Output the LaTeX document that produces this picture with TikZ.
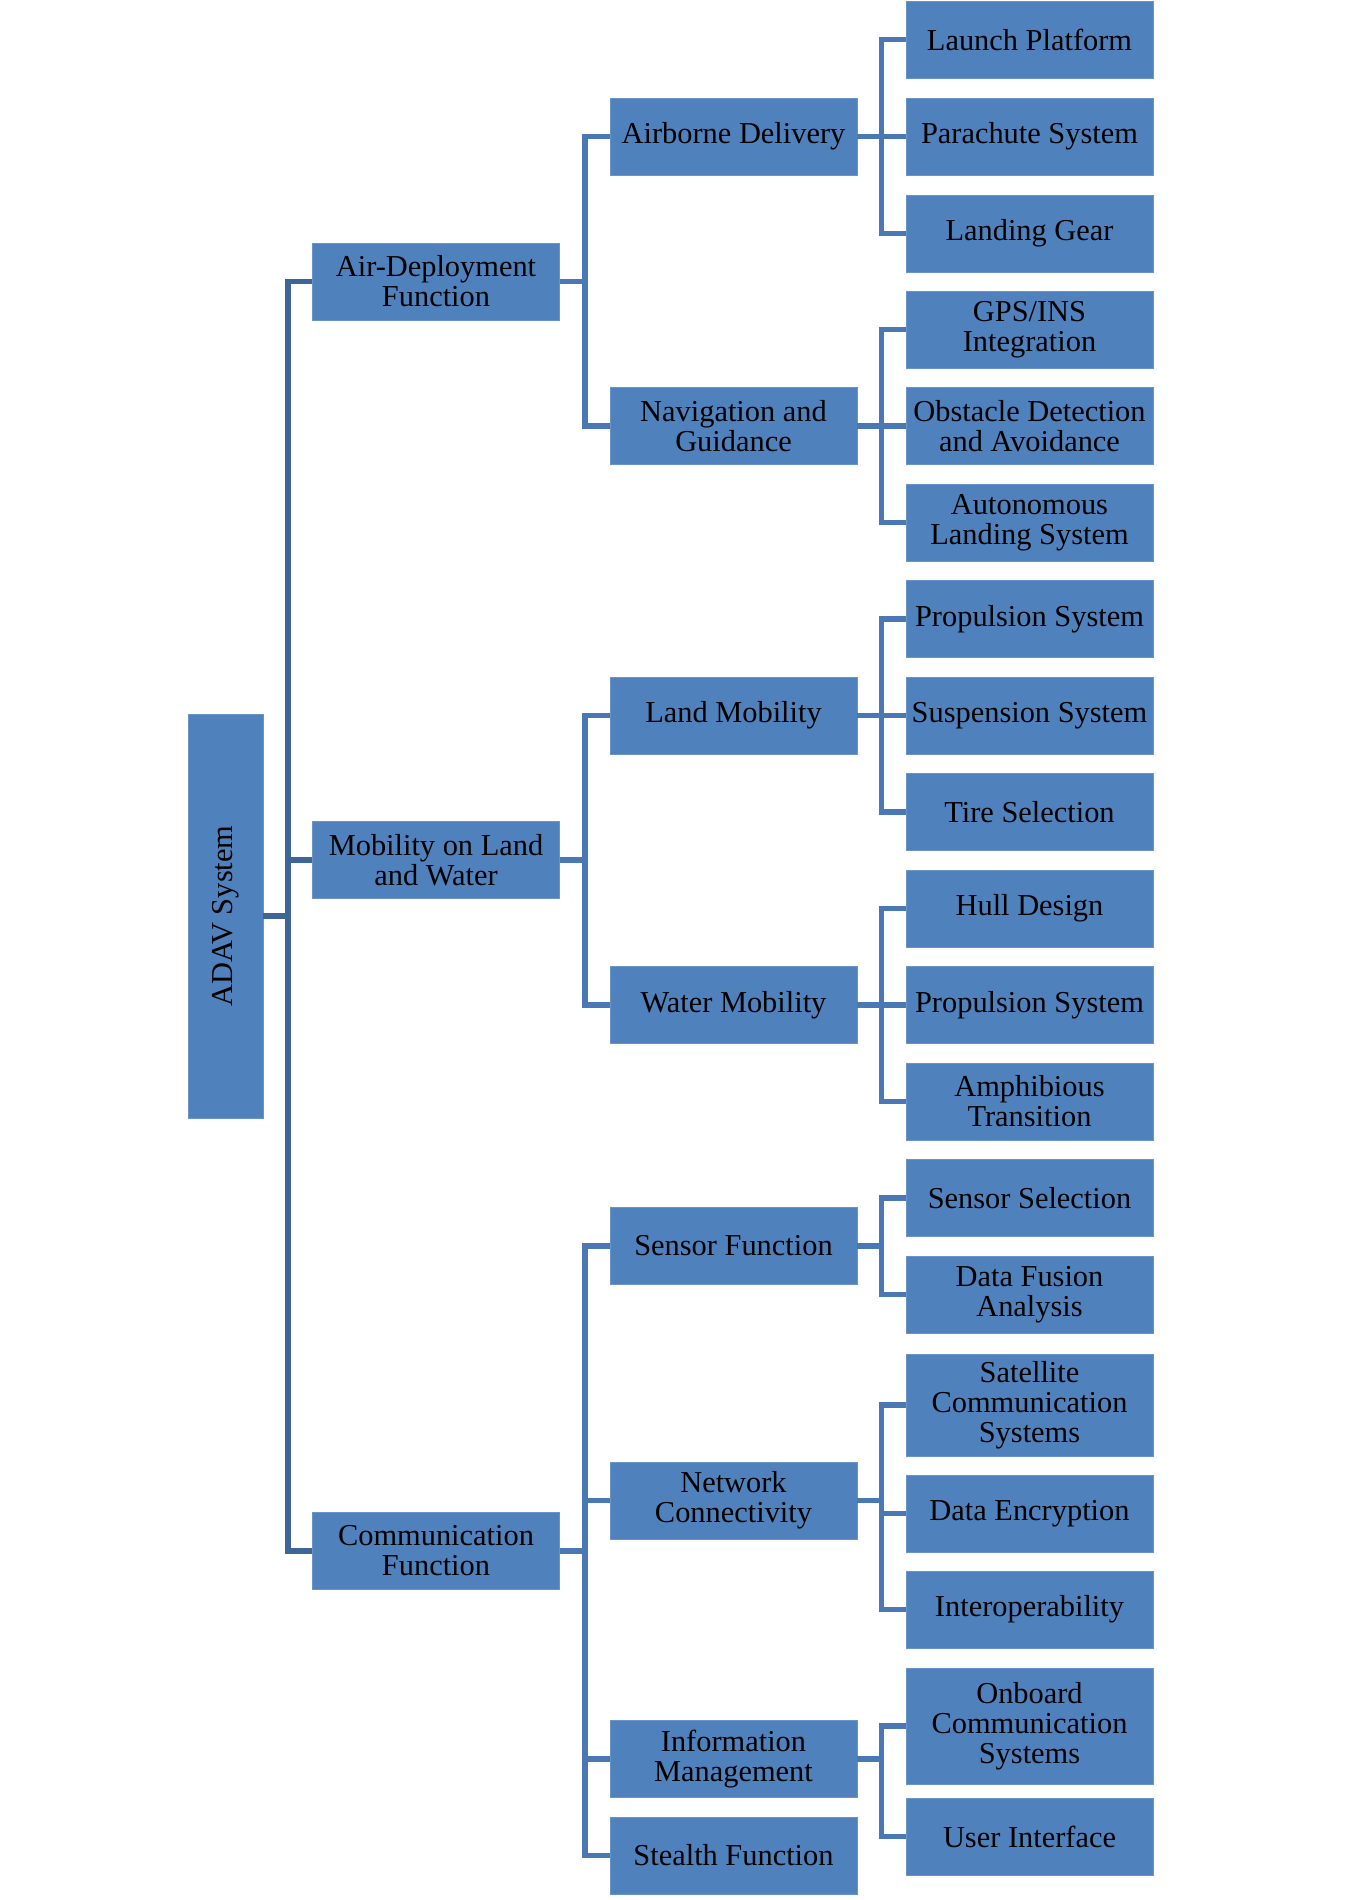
\documentclass[tikz,border=0pt]{standalone}
\usepackage{fontspec}
\setmainfont{Liberation Serif}
\definecolor{boxblue}{HTML}{4F81BD}
\definecolor{rootline}{HTML}{3D6697}
\definecolor{branchline}{HTML}{4A78B4}
\begin{document}
\begin{tikzpicture}[x=0.02cm, y=-0.02cm,
  font=\fontsize{17.3}{17.1}\selectfont,
  fbox/.style={fill=boxblue, draw=boxblue!85!white, line width=0.4pt, inner sep=0pt,
    minimum width=4.94cm, minimum height=1.54cm, align=center, text=black},
  rootbus/.style={draw=rootline, line width=3.3pt},
  bus/.style={draw=branchline, line width=3.1pt}]
  \useasboundingbox (0,0) rectangle (1346,1900);
  % root
  \node[fbox, rotate=90, minimum width=8.08cm, minimum height=1.5cm] (adav) at (225.5,916) {ADAV System};
  % first level
  \node[fbox] (airdep) at (436,281.5) {Air-Deployment\\Function};
  \node[fbox] (mobil) at (436,860) {Mobility on Land\\and Water};
  \node[fbox] (comm) at (436,1551) {Communication\\Function};
  % second level
  \node[fbox] (airborne) at (733.5,136.5) {Airborne Delivery};
  \node[fbox] (navig) at (733.5,426) {Navigation and\\Guidance};
  \node[fbox] (landmob) at (733.5,715.5) {Land Mobility};
  \node[fbox] (watermob) at (733.5,1005) {Water Mobility};
  \node[fbox] (sensor) at (733.5,1246) {Sensor Function};
  \node[fbox] (network) at (733.5,1500.5) {Network\\Connectivity};
  \node[fbox] (infomgmt) at (733.5,1759) {Information\\Management};
  \node[fbox] (stealth) at (733.5,1855.5) {Stealth Function};
  % third level
  \node[fbox] (launch) at (1029.5,39.5) {Launch Platform};
  \node[fbox] (parachute) at (1029.5,136.5) {Parachute System};
  \node[fbox] (gear) at (1029.5,233.5) {Landing Gear};
  \node[fbox] (gps) at (1029.5,329.5) {GPS/INS\\Integration};
  \node[fbox] (obstacle) at (1029.5,426) {Obstacle Detection\\and Avoidance};
  \node[fbox] (autoland) at (1029.5,522.5) {Autonomous\\Landing System};
  \node[fbox] (landprop) at (1029.5,619) {Propulsion System};
  \node[fbox] (suspension) at (1029.5,715.5) {Suspension System};
  \node[fbox] (tire) at (1029.5,812) {Tire Selection};
  \node[fbox] (hull) at (1029.5,908.5) {Hull Design};
  \node[fbox] (waterprop) at (1029.5,1005) {Propulsion System};
  \node[fbox] (amphib) at (1029.5,1101.5) {Amphibious\\Transition};
  \node[fbox] (senssel) at (1029.5,1198) {Sensor Selection};
  \node[fbox] (fusion) at (1029.5,1294.5) {Data Fusion\\Analysis};
  \node[fbox, minimum height=2.04cm] (satcom) at (1029.5,1405) {Satellite\\Communication\\Systems};
  \node[fbox] (encrypt) at (1029.5,1513.5) {Data Encryption};
  \node[fbox] (interop) at (1029.5,1609.5) {Interoperability};
  \node[fbox, minimum height=2.32cm] (onboard) at (1029.5,1726) {Onboard\\Communication\\Systems};
  \node[fbox] (userif) at (1029.5,1836.5) {User Interface};
  % connectors
  \foreach \child in {airdep, mobil, comm}
    \draw[rootbus] (adav.south) -- ++(25,0) |- (\child.west);
  \foreach \child in {airborne, navig}
    \draw[bus] (airdep.east) -- ++(25,0) |- (\child.west);
  \foreach \child in {landmob, watermob}
    \draw[bus] (mobil.east) -- ++(25,0) |- (\child.west);
  \foreach \child in {sensor, network, infomgmt, stealth}
    \draw[bus] (comm.east) -- ++(25,0) |- (\child.west);
  \foreach \child in {launch, parachute, gear}
    \draw[bus] (airborne.east) -- ++(24,0) |- (\child.west);
  \foreach \child in {gps, obstacle, autoland}
    \draw[bus] (navig.east) -- ++(24,0) |- (\child.west);
  \foreach \child in {landprop, suspension, tire}
    \draw[bus] (landmob.east) -- ++(24,0) |- (\child.west);
  \foreach \child in {hull, waterprop, amphib}
    \draw[bus] (watermob.east) -- ++(24,0) |- (\child.west);
  \foreach \child in {senssel, fusion}
    \draw[bus] (sensor.east) -- ++(24,0) |- (\child.west);
  \foreach \child in {satcom, encrypt, interop}
    \draw[bus] (network.east) -- ++(24,0) |- (\child.west);
  \foreach \child in {onboard, userif}
    \draw[bus] (infomgmt.east) -- ++(24,0) |- (\child.west);
\end{tikzpicture}
\end{document}
